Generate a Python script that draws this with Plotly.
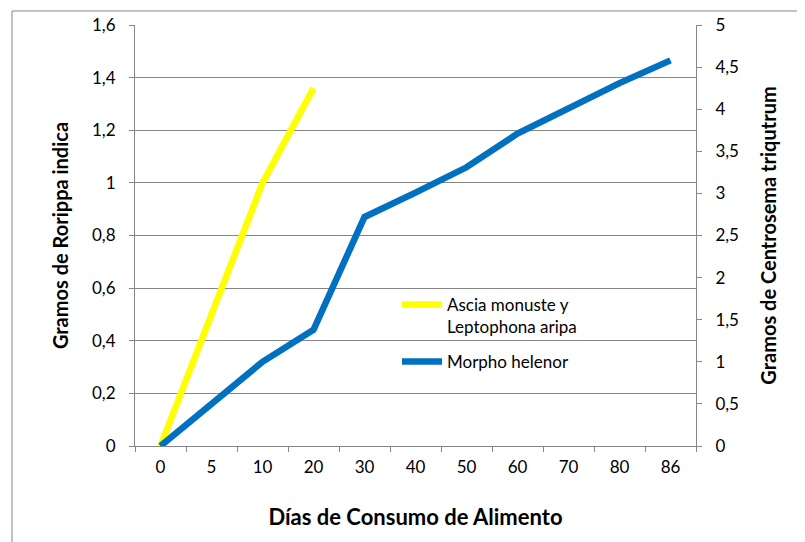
import plotly.graph_objects as go

dias = ["0", "5", "10", "20", "30", "40", "50", "60", "70", "80", "86"]
ascia = [0, 0.5, 1.0, 1.36, None, None, None, None, None, None, None]
morpho = [0, 0.5, 1.0, 1.38, 2.72, 3.01, 3.31, 3.71, 4.01, 4.31, 4.58]

grid = "#868686"
font = "Lato, 'Open Sans', sans-serif"

fig = go.Figure()
fig.add_trace(go.Scatter(x=dias, y=ascia, mode="lines", name="Ascia monuste y<br>Leptophona aripa",
                         legendgroup="a", line=dict(color="#FFFF00", width=6.5), yaxis="y"))
fig.add_trace(go.Scatter(x=dias, y=morpho, mode="lines", name="Morpho helenor",
                         legendgroup="b", line=dict(color="#0070C0", width=6.5), yaxis="y2"))

# the page body has an 8px margin, so the figure is sized/offset to compensate
fig.update_layout(
    width=797, height=534,
    margin=dict(l=127, r=109, t=17, b=96, autoexpand=False),
    paper_bgcolor="white", plot_bgcolor="white",
    separators=",.",
    font=dict(family=font, size=17, color="#000000"),
    showlegend=True,
    legend=dict(x=0.467, y=0.378, xanchor="left", yanchor="top", bgcolor="rgba(0,0,0,0)",
                font=dict(size=17), traceorder="grouped", tracegroupgap=10, itemwidth=40,
                valign="top"),
    xaxis=dict(type="category", range=[-0.5, 10.5], showline=True, linecolor=grid, linewidth=1,
               ticks="outside", tickson="boundaries", ticklen=5, tickcolor=grid,
               showgrid=False, ticklabelstandoff=6,
               title=dict(text="<b>Días de Consumo de Alimento</b>", font=dict(size=22), standoff=33)),
    yaxis=dict(range=[0, 1.6], dtick=0.2, showline=True, linecolor=grid, linewidth=1,
               ticks="outside", ticklen=5, tickcolor=grid, showgrid=True, gridcolor=grid, gridwidth=1,
               zeroline=False, ticklabelstandoff=10,
               title=dict(text="<b>Gramos de Rorippa indica</b>", font=dict(size=20), standoff=18)),
    yaxis2=dict(range=[0, 5], dtick=0.5, overlaying="y", side="right", showline=True, linecolor=grid,
                linewidth=1, ticks="outside", ticklen=5, tickcolor=grid, showgrid=False, zeroline=False,
                ticklabelstandoff=10,
                title=dict(text="<b>Gramos de Centrosema triqutrum</b>", font=dict(size=20), standoff=24)),
    shapes=[dict(type="rect", xref="paper", yref="paper", x0=-0.2193, x1=1.4, y0=-0.4, y1=1.0333,
                 line=dict(color=grid, width=1), fillcolor="rgba(0,0,0,0)", layer="below")],
)

fig.write_html("out.html")
